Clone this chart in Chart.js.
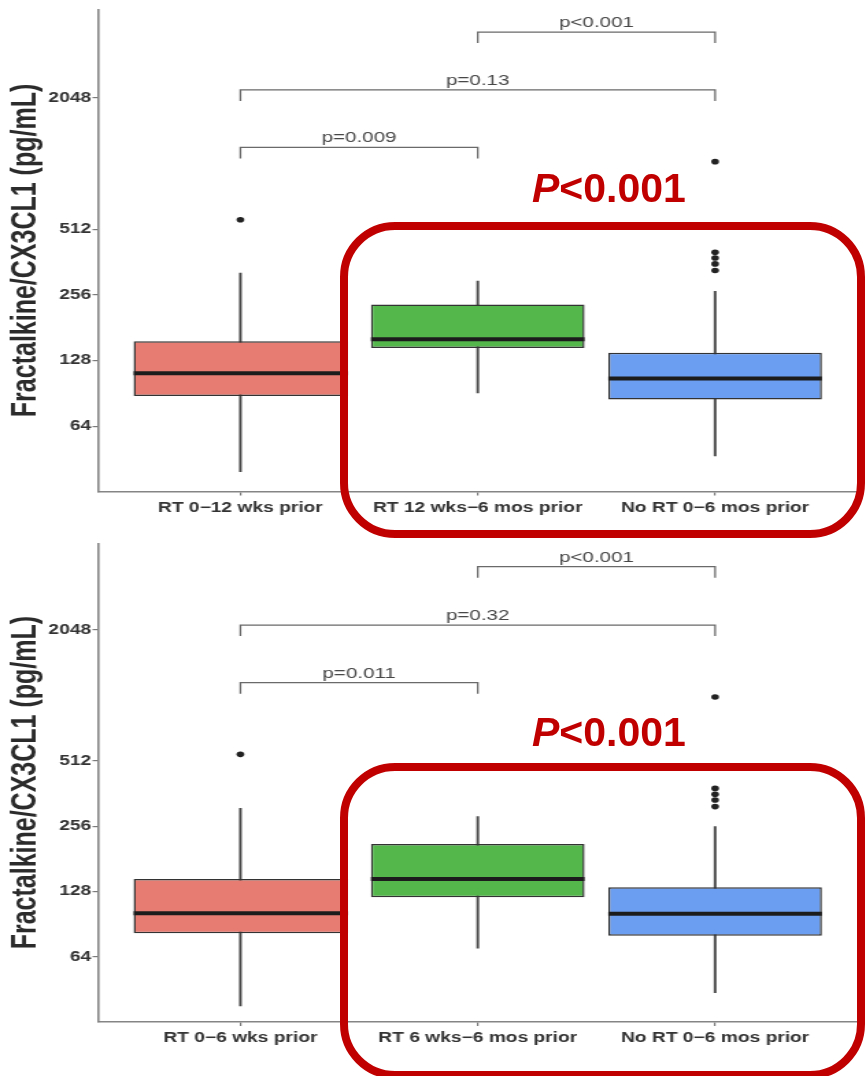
<!DOCTYPE html>
<html><head><meta charset="utf-8">
<script src="https://cdn.jsdelivr.net/npm/chart.js@4.4.1/dist/chart.umd.min.js"></script>
<style>
html,body{margin:0;padding:0;background:#fff;}
body{width:866px;height:1076px;overflow:hidden;position:relative;font-family:"Liberation Sans",Arial,sans-serif;}
canvas{position:absolute;left:0;}
.hl{position:absolute;box-sizing:border-box;border:8px solid #c00000;border-radius:55px;}
.pv{position:absolute;left:532px;font-weight:bold;font-size:41px;line-height:41px;color:#c00000;white-space:nowrap;font-family:"Liberation Sans",Arial,sans-serif;}
</style></head><body>
<canvas id="topChart" width="632" height="530" style="top:0;width:866px;height:530px"></canvas>
<canvas id="bottomChart" width="632" height="546" style="top:530px;width:866px;height:546px"></canvas>
<div class="pv" style="top:168px"><i>P</i>&lt;0.001</div>
<div class="hl" style="left:340px;top:222px;width:525px;height:316px"></div>
<div class="pv" style="top:712px"><i>P</i>&lt;0.001</div>
<div class="hl" style="left:340px;top:763px;width:525px;height:316px"></div>
<script>
// ---- data ----
const yTicks = [64, 128, 256, 512, 2048];
const yTitle = 'Fractalkine/CX3CL1 (pg/mL)';

const topGroups = ['RT 0\u221212 wks prior', 'RT 12 wks\u22126 mos prior', 'No RT 0\u22126 mos prior'];
const topWhiskerLow = [39.6, 91, 46.7];
const topQ1 = [88, 146, 84.8];
const topMedian = [112, 160, 105.8];
const topQ3 = [156.7, 231, 139];
const topWhiskerHigh = [322, 296, 266];
const topOutliers = [[566], [], [331, 355, 378, 401, 1045]];
const topPairs = [[1, 2], [1, 3], [2, 3]];
const topBracketLevels = [1214, 2228, 4105];
const topBracketLabels = ['p=0.009', 'p=0.13', 'p<0.001'];

const bottomGroups = ['RT 0\u22126 wks prior', 'RT 6 wks\u22126 mos prior', 'No RT 0\u22126 mos prior'];
const bottomWhiskerLow = [38.1, 70.2, 43.8];
const bottomQ1 = [82.3, 120.5, 80.2];
const bottomMedian = [101.7, 146.3, 101];
const bottomQ3 = [146.3, 212, 134];
const bottomWhiskerHigh = [309.5, 283, 254.7];
const bottomOutliers = [[548], [], [315, 338, 359, 382, 1007]];
const bottomPairs = [[1, 2], [1, 3], [2, 3]];
const bottomBracketLevels = [1171, 2158, 4006];
const bottomBracketLabels = ['p=0.011', 'p=0.32', 'p<0.001'];

// ---- styling ----
const boxColors = ['#E77D72', '#53B74C', '#6B9DF0'];
Chart.defaults.font.family = '"Liberation Sans", Arial, sans-serif';

function bracketPlugin(pairs, levels, labels) {
  return {
    id: 'brackets',
    afterDatasetsDraw(chart) {
      const {ctx, scales: {x, y}} = chart;
      ctx.save();
      ctx.strokeStyle = '#6a6a6a';
      ctx.lineWidth = 1.3;
      ctx.fillStyle = '#474747';
      ctx.font = '15px "Liberation Sans", Arial, sans-serif';
      ctx.textAlign = 'center';
      ctx.textBaseline = 'alphabetic';
      pairs.forEach((p, i) => {
        const x1 = x.getPixelForValue(p[0]);
        const x2 = x.getPixelForValue(p[1]);
        const yy = y.getPixelForValue(levels[i]);
        ctx.beginPath();
        ctx.moveTo(x1, yy + 11);
        ctx.lineTo(x1, yy);
        ctx.lineTo(x2, yy);
        ctx.lineTo(x2, yy + 11);
        ctx.stroke();
        ctx.fillText(labels[i], (x1 + x2) / 2, yy - 5);
      });
      ctx.restore();
    }
  };
}

function makeChart(id, groups, wLo, q1, med, q3, wHi, outl, pairs, levels, labels, lay) {
  const idx = groups.map((g, i) => i + 1);
  const outPts = [];
  outl.forEach((arr, i) => arr.forEach(v => outPts.push({x: i + 1, y: v})));
  const axisGrid = {display: true, drawOnChartArea: false, drawTicks: true, tickLength: 4, color: '#7a7a7a', lineWidth: 1.2, offset: false};
  const axisBorder = {display: true, color: '#858585', width: 1.6};
  return new Chart(document.getElementById(id), {
    type: 'bar',
    data: {
      datasets: [
        {type: 'bar', data: idx.map((c, i) => ({x: c, y: [wLo[i], wHi[i]]})),
         backgroundColor: '#4a4a4a', barThickness: 1.3, grouped: false, order: 4},
        {type: 'bar', data: idx.map((c, i) => ({x: c, y: [q1[i], q3[i]]})),
         backgroundColor: boxColors, borderColor: '#333333', borderWidth: 1.5, borderSkipped: false,
         grouped: false, barPercentage: 0.9, categoryPercentage: 1, order: 3},
        {type: 'scatter', data: idx.map((c, i) => ({x: c, y: med[i]})),
         pointStyle: 'line', pointBorderColor: '#1c1c1c', pointBorderWidth: 4,
         pointRadius: (ctx) => { const s = ctx.chart.scales.x; return s.getPixelForValue(1.45) - s.getPixelForValue(1); },
         order: 2},
        {type: 'scatter', data: outPts, pointRadius: 2.8, pointBackgroundColor: '#222', pointBorderColor: '#222',
         pointBorderWidth: 0, order: 1}
      ]
    },
    options: {
      responsive: false,
      animation: false,
      devicePixelRatio: 1,
      layout: {padding: {left: 0, right: 6.2, top: lay.top, bottom: 0}},
      plugins: {legend: {display: false}, tooltip: {enabled: false}},
      scales: {
        x: {
          type: 'linear', min: 0.4, max: 3.6, offset: false, bounds: 'data',
          afterBuildTicks: (s) => { s.ticks = idx.map(v => ({value: v})); },
          afterFit: (s) => { s.height = lay.xh; },
          ticks: {autoSkip: false, maxRotation: 0, minRotation: 0, padding: 4, color: '#333',
                  font: {size: 14, weight: 'bold'}, callback: (v) => groups[Math.round(v) - 1]},
          grid: axisGrid, border: axisBorder
        },
        y: {
          type: 'logarithmic', min: lay.ymin, max: lay.ymax, bounds: 'data',
          afterBuildTicks: (s) => { s.ticks = yTicks.map(v => ({value: v})); },
          afterFit: (s) => { s.width = 71.5; },
          ticks: {autoSkip: false, padding: 1, color: '#333', font: {size: 14, weight: 'bold'},
                  callback: (v) => String(v)},
          grid: axisGrid, border: axisBorder,
          title: {display: true, text: yTitle, color: '#2b2b2b', font: {size: 25, weight: 'bold'},
                  padding: {top: 4.5, bottom: 0}}
        }
      }
    },
    plugins: [bracketPlugin(pairs, levels, labels)]
  });
}

makeChart('topChart', topGroups, topWhiskerLow, topQ1, topMedian, topQ3, topWhiskerHigh, topOutliers,
  topPairs, topBracketLevels, topBracketLabels, {top: 8.3, xh: 38.5, ymin: 32.1, ymax: 5215});
makeChart('bottomChart', bottomGroups, bottomWhiskerLow, bottomQ1, bottomMedian, bottomQ3, bottomWhiskerHigh, bottomOutliers,
  bottomPairs, bottomBracketLevels, bottomBracketLabels, {top: 13.3, xh: 54, ymin: 32.1, ymax: 5134});
</script>
</body></html>
